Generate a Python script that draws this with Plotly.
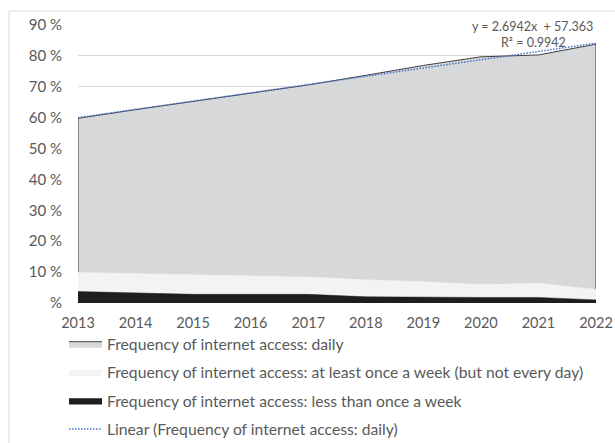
import numpy as np
import plotly.graph_objects as go

years = [2013, 2014, 2015, 2016, 2017, 2018, 2019, 2020, 2021, 2022]
daily = [59.8, 62.6, 65.3, 67.9, 70.6, 73.7, 76.9, 79.7, 80.3, 83.8]
weekly = [9.9, 9.5, 9.1, 8.7, 8.4, 7.5, 6.9, 6.0, 6.4, 4.4]
less_weekly = [3.7, 3.3, 2.8, 2.8, 2.8, 2.0, 1.8, 1.8, 1.8, 1.0]
ytick_vals = [0, 10, 20, 30, 40, 50, 60, 70, 80, 90]
ytick_text = ["%", "10 %", "20 %", "30 %", "40 %", "50 %", "60 %", "70 %", "80 %", "90 %"]
names = [
    "Frequency of internet access: daily",
    "Frequency of internet access: at least once a week (but not every day)",
    "Frequency of internet access: less than once a week",
    "Linear (Frequency of internet access: daily)",
]

# linear trendline of daily series
idx = np.arange(1, len(years) + 1)
slope, intercept = np.polyfit(idx, daily, 1)
trend = slope * idx + intercept

FONT = "Lato"
TXT = "#595959"
W, H = 615, 443
# pixel geometry of the plot area
X0, X1, Y0, Y1 = 78, 596, 25, 303
PW, PH = X1 - X0, Y1 - Y0


def px(x):
    return (x - X0) / PW


def py(y):
    return (Y1 - y) / PH


fig = go.Figure()
fig.add_trace(go.Scatter(
    x=[years[0]] + years + [years[-1]], y=[0] + daily + [0],
    fill="toself", fillcolor="#d7d8da", mode="lines",
    line=dict(color="#3f3f3f", width=1), name=names[0], legendgroup="a"))
fig.add_trace(go.Scatter(
    x=years, y=weekly, fill="tozeroy", fillcolor="#f2f3f3", mode="lines",
    line=dict(color="#f2f3f3", width=0.5), name=names[1], legendgroup="b"))
fig.add_trace(go.Scatter(
    x=years, y=less_weekly, fill="tozeroy", fillcolor="#1e1e1e", mode="lines",
    line=dict(color="#1e1e1e", width=0.5), name=names[2], legendgroup="c"))
fig.add_trace(go.Scatter(
    x=years, y=trend, mode="lines",
    line=dict(color="#4472c4", width=1.5, dash="1.5px,1.5px"), name=names[3],
    legendgroup="d"))

fig.add_annotation(xref="paper", yref="paper", x=px(532), y=py(26.7),
                   xanchor="center", yanchor="middle",
                   text="y = 2.6942x  + 57.363", showarrow=False,
                   font=dict(family=FONT, size=12.5, color=TXT))
fig.add_annotation(xref="paper", yref="paper", x=px(533), y=py(42.7),
                   xanchor="center", yanchor="middle",
                   text="R² = 0.9942", showarrow=False,
                   font=dict(family=FONT, size=12.5, color=TXT))

# outer chart frame (left and top edges visible)
fig.add_shape(type="line", xref="paper", yref="paper",
              x0=px(9), x1=px(9), y0=py(460), y1=py(11),
              line=dict(color="#d9d9d9", width=1), layer="below")
fig.add_shape(type="line", xref="paper", yref="paper",
              x0=px(9), x1=px(640), y0=py(11), y1=py(11),
              line=dict(color="#d9d9d9", width=1), layer="below")

fig.update_layout(
    width=W, height=H,
    margin=dict(l=X0, r=W - X1, t=Y0, b=H - Y1, autoexpand=False),
    paper_bgcolor="white", plot_bgcolor="white",
    font=dict(family=FONT, color=TXT),
    showlegend=True,
    legend=dict(x=px(64), y=py(327), xanchor="left", yanchor="top",
                font=dict(family=FONT, size=15.7, color=TXT),
                tracegroupgap=5, itemwidth=33, bgcolor="rgba(0,0,0,0)"),
    xaxis=dict(range=[2013, 2022], tickmode="array", tickvals=years,
               ticktext=[str(y) for y in years], showgrid=False, zeroline=False,
               showline=False, ticks="", ticklabelstandoff=9, automargin=False,
               tickfont=dict(size=14.5, color=TXT)),
    yaxis=dict(range=[0, 90], tickmode="array", tickvals=ytick_vals, ticktext=ytick_text,
               showgrid=True, gridcolor="#d9d9d9", gridwidth=1, zeroline=False,
               showline=False, ticks="", ticklabelstandoff=15, automargin=False,
               tickfont=dict(size=15, color=TXT)),
)

fig.write_html(
    "out.html",
    config={"displayModeBar": False},
    post_script=(
        "document.body.style.margin='0';"
        "document.body.style.overflow='hidden';"
        "document.documentElement.style.overflow='hidden';"
    ),
)
